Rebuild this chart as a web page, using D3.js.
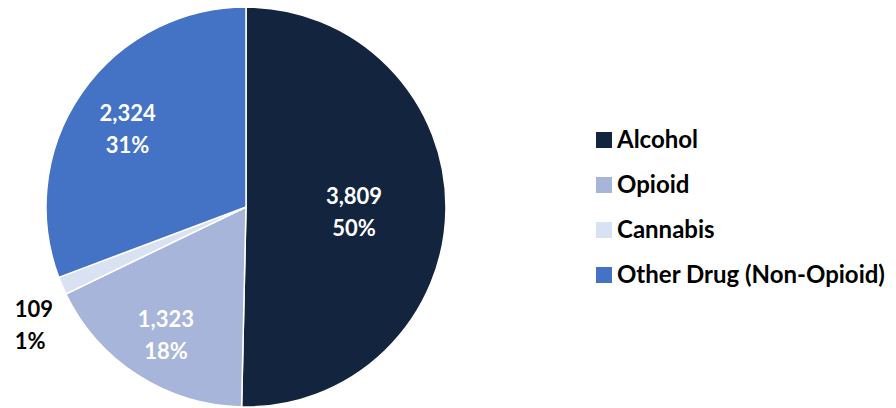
<!DOCTYPE html>
<html>
<head>
<meta charset="utf-8">
<script src="https://cdn.jsdelivr.net/npm/d3@7"></script>
<style>
  body { margin: 0; background: #fff; }
  svg text { font-family: "Lato", "Open Sans", sans-serif; font-weight: bold; }
</style>
</head>
<body>
<div class="pie_chart"></div>
<script>
const categories = ["Alcohol", "Opioid", "Cannabis", "Other Drug (Non-Opioid)"];
const counts = [3809, 1323, 109, 2324];
const percents = ["50%", "18%", "1%", "31%"];
const colors = ["#13243f", "#a7b5da", "#d9e2f3", "#4472c4"];

let width = 896,
  height = 408,
  cx = 246,
  cy = 207,
  radius = 200;

let svg = d3
  .select(".pie_chart")
  .append("svg")
  .attr("width", width)
  .attr("height", height);

let g = svg.append("g").attr("transform", "translate(" + cx + "," + cy + ")");

let data = categories.map((c, i) => ({ name: c, value: counts[i], pct: percents[i], color: colors[i] }));

let pie = d3.pie().sort(null).value((d) => d.value);
let arc = d3.arc().innerRadius(0).outerRadius(radius);

let arcs = pie(data);

g.selectAll(".slice")
  .data(arcs)
  .enter()
  .append("path")
  .attr("class", "slice")
  .attr("d", arc)
  .attr("fill", (d) => d.data.color)
  .attr("stroke", "#fff")
  .attr("stroke-width", 1.5);

// label distance per slice (fraction of radius), Excel "best fit" style
const labelR = [0.54, 0.74, 1.22, 0.72];
const labelColor = ["#fff", "#fff", "#000", "#fff"];

arcs.forEach((d, i) => {
  let a = (d.startAngle + d.endAngle) / 2;
  let r = radius * labelR[i];
  let x = Math.sin(a) * r,
    y = -Math.cos(a) * r;
  let t = g
    .append("text")
    .attr("text-anchor", i === 2 ? "start" : "middle")
    .attr("fill", labelColor[i])
    .attr("font-size", 22);
  let lx = i === 2 ? x - 7 : x;
  let ly = i === 2 ? y + 14 : y - 4;
  t.append("tspan").attr("x", lx).attr("y", ly).text(d3.format(",")(d.data.value));
  t.append("tspan").attr("x", lx).attr("y", ly + 32).text(d.data.pct);
});

// legend
let legend = svg
  .selectAll(".legend")
  .data(data)
  .enter()
  .append("g")
  .attr("class", "legend")
  .attr("transform", (d, i) => "translate(596," + (132 + i * 45) + ")");

legend
  .append("rect")
  .attr("width", 16)
  .attr("height", 16)
  .attr("fill", (d) => d.color);

legend
  .append("text")
  .attr("x", 21)
  .attr("y", 16)
  .attr("font-size", 24)
  .attr("fill", "#000")
  .text((d) => d.name);
</script>
</body>
</html>
